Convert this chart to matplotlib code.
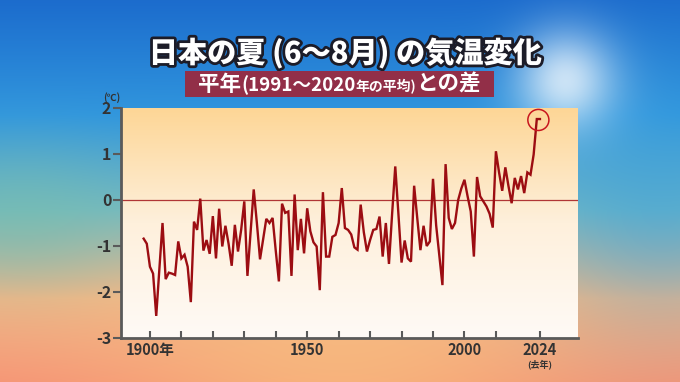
import numpy as np
import matplotlib
matplotlib.use('Agg')
import matplotlib.pyplot as plt
import matplotlib.patheffects as pe
from matplotlib.colors import LinearSegmentedColormap
from matplotlib.patches import Rectangle

plt.rcParams['font.family'] = ['Noto Sans CJK JP', 'DejaVu Sans']

# summer (Jun-Aug) temperature anomaly in Japan, vs 1991-2020 normal (deg C)
years = np.arange(1898, 2025)
anomaly = [
    -0.84, -0.95,                                                       # 1898-1899
    -1.45, -1.60, -2.52, -1.50, -0.50, -1.72, -1.58, -1.60, -1.63, -0.90,  # 1900s
    -1.27, -1.19, -1.45, -2.22, -0.47, -0.65, 0.03, -1.10, -0.87, -1.17,   # 1910s
    -0.35, -1.27, -0.19, -1.01, -0.56, -0.95, -1.43, -0.54, -1.12, -0.65,  # 1920s
    -0.03, -1.65, -0.70, 0.23, -0.50, -1.29, -0.85, -0.41, -0.50, -0.39,   # 1930s
    -1.10, -1.77, -0.08, -0.28, -0.25, -1.65, 0.12, -1.09, -0.41, -1.16,   # 1940s
    -0.18, -0.68, -0.92, -1.01, -1.96, 0.17, -1.23, -1.23, -0.80, -0.76,   # 1950s
    -0.50, 0.26, -0.61, -0.65, -0.75, -1.03, -1.08, -0.10, -0.70, -1.12,   # 1960s
    -0.87, -0.65, -0.63, -0.36, -1.23, -0.50, -1.39, -0.30, 0.73, -0.30,   # 1970s
    -1.36, -0.88, -1.27, -1.34, 0.31, -0.40, -1.09, -0.56, -1.00, -0.90,   # 1980s
    0.46, -0.55, -1.20, -1.85, 0.78, -0.39, -0.63, -0.50, 0.00, 0.25,      # 1990s
    0.44, 0.08, -0.25, -1.23, 0.50, 0.08, -0.03, -0.14, -0.30, -0.60,      # 2000s
    1.06, 0.60, 0.20, 0.71, 0.30, -0.07, 0.48, 0.23, 0.52, 0.15,           # 2010s
    0.60, 0.55, 0.99, 1.76, 1.76,                                          # 2020-2024
]
assert len(anomaly) == len(years)

xtick_years = [1900, 1910, 1920, 1930, 1940, 1950, 1960, 1970, 1980, 1990, 2000, 2010, 2024]
xtick_text = {1900: '1900年', 1950: '1950', 2000: '2000', 2024: '2024'}
ytick_values = [-3, -2, -1, 0, 1, 2]

title = '日本の夏 (6～8月) の気温変化'
subtitle_parts = [('平年', 15.5), ('(1991～2020', 13.5), ('年の平均)', 10), ('との差', 15.5)]

W, H = 680, 382
fig = plt.figure(figsize=(W / 100, H / 100), dpi=100)

# ---- background: sky to sunset gradient with a sun glow ----
yy, xx = np.mgrid[0:H, 0:W].astype(float)
t = yy / H
stops = [0.0, 0.3, 0.55, 0.78, 1.0]
cols = np.array([(28, 108, 205), (48, 150, 222), (115, 185, 195), (242, 182, 135), (246, 148, 118)]) / 255
bg = np.zeros((H, W, 3))
for c in range(3):
    bg[..., c] = np.interp(t, stops, cols[:, c])
# warmer orange in the lower middle
warm = np.exp(-((xx - 340) / 230) ** 2 - ((yy - 370) / 110) ** 2)[..., None]
bg = bg * (1 - 0.6 * warm) + np.array([248, 198, 128]) / 255 * 0.6 * warm
# teal-green on the left middle
teal = np.exp(-((xx - 20) / 110) ** 2 - ((yy - 215) / 70) ** 2)[..., None]
bg = bg * (1 - 0.5 * teal) + np.array([120, 190, 170]) / 255 * 0.5 * teal
# bluer right side
blue = np.exp(-((xx - 660) / 120) ** 2 - ((yy - 200) / 120) ** 2)[..., None]
bg = bg * (1 - 0.5 * blue) + np.array([60, 160, 220]) / 255 * 0.5 * blue
# sun glow
sun = np.exp(-(((xx - 565) ** 2 + (yy - 80) ** 2) / (2 * 35 ** 2)))[..., None]
bg = bg * (1 - 0.75 * sun) + 0.75 * sun
bgax = fig.add_axes([0, 0, 1, 1])
bgax.imshow(np.clip(bg, 0, 1), extent=[0, 1, 0, 1], aspect='auto', zorder=-10)
bgax.set_axis_off()

# ---- chart ----
left, right, top, bottom = 121, 578, 108, 338
ax = fig.add_axes([left / W, 1 - bottom / H, (right - left) / W, (bottom - top) / H])
xlim = (1890.8, 2036.1)
ylim = (-3, 2)
ax.set_xlim(xlim)
ax.set_ylim(ylim)
ax.patch.set_visible(False)

grad_cmap = LinearSegmentedColormap.from_list('plotbg', ['#fffaf6', '#fef0dc', '#fdd696'])
ax.imshow(np.linspace(0, 1, 256)[::-1, None], extent=[xlim[0], xlim[1], ylim[0], ylim[1]],
          aspect='auto', cmap=grad_cmap, zorder=0)

ax.axhline(0, color='#b03535', lw=0.9, zorder=2)
ax.plot(years, anomaly, color='#9c0d12', lw=1.7, zorder=3, solid_joinstyle='miter')
ax.scatter([2023.5], [1.74], s=230, facecolors='none', edgecolors='#c8161e', linewidths=1.1, zorder=4)

for s in ['top', 'right']:
    ax.spines[s].set_visible(False)
for s in ['left', 'bottom']:
    ax.spines[s].set_color('#5a5a5a')
    ax.spines[s].set_linewidth(2)

ax.set_yticks(ytick_values)
ax.set_yticklabels([str(v) for v in ytick_values])
ax.set_xticks(xtick_years)
ax.set_xticklabels([xtick_text.get(y, '') for y in xtick_years])
ax.tick_params(axis='y', direction='out', length=6, width=1.5, color='#5a5a5a', pad=1,
               labelsize=11.5, labelcolor='#333333')
ax.tick_params(axis='x', direction='in', length=5, width=1.5, color='#5a5a5a', pad=3,
               labelsize=10.5, labelcolor='#333333')
for lab in ax.get_xticklabels() + ax.get_yticklabels():
    lab.set_fontweight('bold')

fig.text(112 / W, 1 - 98 / H, '(℃)', fontsize=7, weight='bold', color='#333333', ha='center', va='center')
fig.text(540 / W, 1 - 364 / H, '(去年)', fontsize=6.5, weight='bold', color='#333333', ha='center', va='center')

# ---- title ----
fig.text(345 / W, 1 - 53 / H, title, fontsize=21, weight='heavy', color='white', ha='center', va='center',
         path_effects=[pe.withStroke(linewidth=4, foreground='#1c1c28')])

# ---- subtitle box with mixed size text ----
box_l, box_r, box_t, box_b = 185, 494, 71, 97
fig.patches.append(Rectangle((box_l / W, 1 - box_b / H), (box_r - box_l) / W, (box_b - box_t) / H,
                             transform=fig.transFigure, facecolor='#922f48', edgecolor='none', zorder=5))
renderer = fig.canvas.get_renderer()
pieces = []
for s, fs in subtitle_parts:
    pieces.append(fig.text(0, 0, s, fontsize=fs, weight='bold', color='white', va='baseline', zorder=6))
widths = [p.get_window_extent(renderer).width for p in pieces]
x0 = (box_l + box_r) / 2 - sum(widths) / 2
for p, w in zip(pieces, widths):
    p.set_position((x0 / W, 1 - 91 / H))
    x0 += w

fig.savefig('out.png', dpi=100)
